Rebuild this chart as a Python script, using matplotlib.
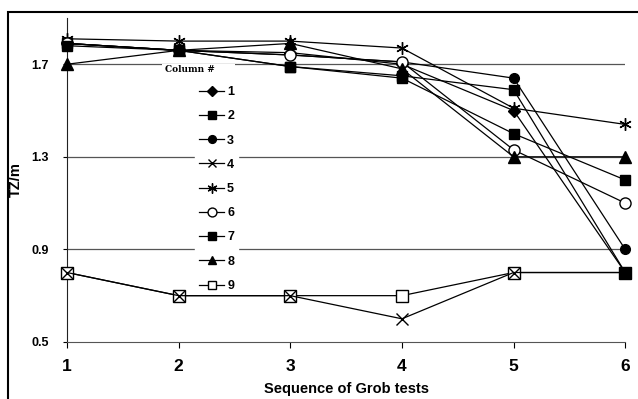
import matplotlib.pyplot as plt
from matplotlib.patches import Rectangle

plt.rcParams['font.family'] = ['Liberation Sans', 'DejaVu Sans']

tests = [1, 2, 3, 4, 5, 6]
col_labels = ['1', '2', '3', '4', '5', '6', '7', '8', '9']
col1 = [1.79, 1.76, 1.75, 1.70, 1.50, 0.80]
col2 = [1.79, 1.76, 1.69, 1.65, 1.59, 0.80]
col3 = [1.79, 1.76, 1.74, 1.71, 1.64, 0.90]
col4 = [0.80, 0.70, 0.70, 0.60, 0.80, 0.80]
col5 = [1.81, 1.80, 1.80, 1.77, 1.51, 1.44]
col6 = [1.79, 1.76, 1.74, 1.71, 1.33, 1.10]
col7 = [1.78, 1.76, 1.69, 1.64, 1.40, 1.20]
col8 = [1.70, 1.76, 1.79, 1.68, 1.30, 1.30]
col9 = [0.80, 0.70, 0.70, 0.70, 0.80, 0.80]
y_ticks = [0.5, 0.9, 1.3, 1.7]

series = [col1, col2, col3, col4, col5, col6, col7, col8, col9]
# marker, face colour, size
styles = [('D', 'black', 6), ('s', 'black', 7), ('o', 'black', 7),
          ('x', 'black', 8), ((6, 2, 0), 'black', 9), ('o', 'white', 8),
          ('s', 'black', 7.5), ('^', 'black', 8), ('s', 'white', 8)]

W, H = 638, 399
fig = plt.figure(figsize=(6.38, 3.99), dpi=100)
ax = fig.add_axes([0.105, 0.143, 0.875, 0.812])

# outer frame (left and top edges visible)
fig.patches.append(Rectangle((8 / W, -0.1), 1.2, 1 - 12 / H + 0.1,
                             transform=fig.transFigure, fill=False,
                             edgecolor='black', linewidth=1.5))

for y in y_ticks[1:]:
    ax.axhline(y, color='#555555', linewidth=0.9, zorder=0)

for i, (vals, lab, (m, fc, ms)) in enumerate(zip(series, col_labels, styles)):
    z = 2.9 if lab == '9' else 3  # open squares sit under the other markers
    ax.plot(tests, vals, color='black', linewidth=0.9, marker=m,
            markersize=ms, markerfacecolor=fc, markeredgecolor='black',
            markeredgewidth=1.0, label=lab, clip_on=False, zorder=z)

ax.set_xlim(1, 6)
ax.set_ylim(0.5, 1.9)
ax.set_xticks(tests)
ax.set_yticks(y_ticks)
ax.set_xticklabels([str(t) for t in tests], fontsize=12.5, fontweight='bold')
ax.set_yticklabels(['%.1f' % v for v in y_ticks], fontsize=9, fontweight='bold')
ax.tick_params(axis='x', direction='out', length=4, pad=8)
ax.tick_params(axis='y', direction='out', length=3, pad=10)
for s in ['top', 'right']:
    ax.spines[s].set_visible(False)
ax.spines['left'].set_color('#222222')
ax.spines['bottom'].set_color('#555555')

ax.set_xlabel('Sequence of Grob tests', fontsize=10.5, fontweight='bold', labelpad=6)
ax.set_ylabel('TZ/m', fontsize=10.5, fontweight='bold', labelpad=6)

leg = ax.legend(loc='upper left', bbox_to_anchor=(189 / W, 1 - 76 / H),
                bbox_transform=fig.transFigure, frameon=True, edgecolor='white',
                framealpha=1.0, fontsize=9, markerscale=0.8, handlelength=2.0,
                handletextpad=0.25, labelspacing=0.98, borderpad=0.3)
for t in leg.get_texts():
    t.set_fontweight('bold')
leg.set_zorder(2)

# legend title: white strip breaks the 1.7 gridline, data lines stay on top
ax.add_patch(Rectangle((162 / W, 1 - 76 / H), 73 / W, 12 / H,
                       transform=fig.transFigure, facecolor='white',
                       edgecolor='none', zorder=1, clip_on=False))
ax.text(190 / W, 1 - 70 / H, 'Column #', transform=fig.transFigure,
        ha='center', va='center', family='DejaVu Serif', fontweight='bold',
        fontsize=6.5, zorder=1.5)

fig.savefig('out.png', dpi=100)
